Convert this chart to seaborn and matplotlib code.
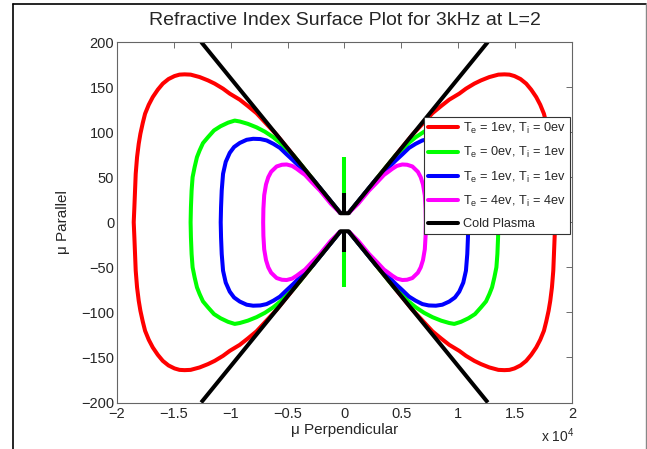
import numpy as np
import pandas as pd
import matplotlib
matplotlib.use("Agg")
import matplotlib.pyplot as plt
import seaborn as sns
from matplotlib.lines import Line2D

# ---------------- data (upper-left quadrant of each surface; mu_perp, mu_par) ----------------
labels = ["T$_e$ = 1ev, T$_i$ = 0ev", "T$_e$ = 0ev, T$_i$ = 1ev",
          "T$_e$ = 1ev, T$_i$ = 1ev", "T$_e$ = 4ev, T$_i$ = 4ev", "Cold Plasma"]
colors = ["#ff0000", "#00ff00", "#0000ff", "#ff00ff", "#000000"]

red_x = [-18530, -18473, -18414, -18355, -18237, -18090, -17943, -17738, -17532, -17208,
         -16855, -16414, -15973, -15472, -14943, -14502, -14060, -13530, -12736, -12001,
         -11412, -10677, -10088, -9206, -8500, -7732, -6850, -5966, -350]
red_y = [0, 16.7, 35.2, 53.7, 72.2, 87.1, 98.2, 110, 120.4, 130.4,
         138.9, 147.1, 153.8, 158.9, 162.2, 163.8, 164.1, 163.8, 161.1, 157.4,
         153.8, 148.2, 142.7, 136, 129, 121, 109, 97.1, 10]

green_x = [-13530, -13501, -13442, -13354, -13177, -12971, -12736, -12442, -12001, -11471,
           -10900, -10235, -9650, -9206, -8500, -7732, -7000, -6266, -5650, -5084, -4500, -350]
green_y = [0, 16.7, 35.2, 50, 61.1, 72.2, 79.7, 87.8, 94.4, 101.9,
           106.5, 110.5, 112.8, 111.8, 109.2, 105.3, 100.5, 94.4, 88, 80.8, 74.4, 10]

blue_x = [-10883, -10853, -10794, -10677, -10441, -10088, -9706, -9206, -8600, -8032,
          -7400, -6849, -6250, -5675, -5100, -4501, -3619, -2800, -350]
blue_y = [0, 16.7, 35.2, 53.7, 67, 77, 83.5, 88, 91.5, 92.6,
          92.3, 90.8, 87, 82.5, 75.5, 68.5, 57.5, 48, 10]

mag_x = [-7150, -7130, -7060, -6900, -6700, -6450, -5966, -5500, -5084, -4600,
         -4201, -3800, -3469, -2877, -2145, -1200, -350]
mag_y = [0, 15, 30, 42, 50, 56, 61.9, 63.8, 64.1, 62.5,
         59.3, 55.5, 52.5, 44.5, 35, 20.5, 10]

# cold plasma: upper "V" branch
cold_x = [-12600, -350, 350, 12600]
cold_y = [200, 10, 10, 200]

# vertical spikes on the mu_par axis
green_spike_y = [10, 72]
cold_spike_y = [10, 33]

xticks = [-2e4, -1.5e4, -1e4, -0.5e4, 0, 0.5e4, 1e4, 1.5e4, 2e4]
xticklabels = ["\u22122", "\u22121.5", "\u22121", "\u22120.5", "0", "0.5", "1", "1.5", "2"]
yticks = [-200, -150, -100, -50, 0, 50, 100, 150, 200]
yticklabels = ["\u2212200", "\u2212150", "\u2212100", "\u221250", "0", "50", "100", "150", "200"]

# ---------------- style ----------------
sns.set_style("white")
plt.rcParams["font.family"] = ["Liberation Sans", "DejaVu Sans"]
plt.rcParams["mathtext.fontset"] = "custom"
plt.rcParams["mathtext.rm"] = "Liberation Sans"
plt.rcParams["mathtext.default"] = "regular"

fig = plt.figure(figsize=(6.47, 4.49), dpi=100)
ax = fig.add_axes([117 / 647, 1 - 402.5 / 449, 455 / 647, 360.5 / 449])


def left_right(xs, ys):
    xs = np.asarray(xs, float)
    ys = np.asarray(ys, float)
    # left half: from near-origin top, around the outside, to near-origin bottom
    lx = np.concatenate([xs[::-1], xs[1:]])
    ly = np.concatenate([ys[::-1], -ys[1:]])
    return [(lx, ly), (-lx, ly)]


LW = 2.9


def draw(sx, sy, color):
    df = pd.DataFrame({"x": sx, "y": sy})
    sns.lineplot(data=df, x="x", y="y", sort=False, estimator=None, ax=ax,
                 color=color, linewidth=LW, solid_capstyle="butt",
                 solid_joinstyle="round", legend=False)


for (cx, cy), col in zip([(red_x, red_y), (green_x, green_y), (blue_x, blue_y),
                          (mag_x, mag_y)], colors[:4]):
    for sx, sy in left_right(cx, cy):
        draw(sx, sy, col)
    if col == colors[1]:
        draw([0, 0], green_spike_y, col)
        draw([0, 0], [-v for v in green_spike_y], col)

# cold plasma on top
draw(cold_x, cold_y, colors[4])
draw(cold_x, [-v for v in cold_y], colors[4])
draw([0, 0], cold_spike_y, colors[4])
draw([0, 0], [-v for v in cold_spike_y], colors[4])

ax.set_xlim(-2e4, 2e4)
ax.set_ylim(-200, 200)
ax.set_xticks(xticks)
ax.set_xticklabels(xticklabels, fontsize=10.5)
ax.set_yticks(yticks)
ax.set_yticklabels(yticklabels, fontsize=10.5)
ax.tick_params(direction="in", length=4, width=0.6, color="#555555", top=True, right=True)
ax.tick_params(axis="x", pad=3.5)
ax.tick_params(axis="y", pad=2)
for s in ax.spines.values():
    s.set_color("#666666")
    s.set_linewidth(0.8)

ax.set_xlabel("\u03bc Perpendicular", fontsize=11, labelpad=1)
ax.set_ylabel("\u03bc Parallel", fontsize=11, labelpad=8)
ax.set_title("Refractive Index Surface Plot for 3kHz at L=2", fontsize=14, pad=12)
fig.text(541 / 647, 1 - 436 / 449, "x 10$^4$", fontsize=10, ha="left", va="center")

handles = [Line2D([0], [0], color=c, lw=LW) for c in colors]
leg = ax.legend(handles, labels, loc="upper right",
                bbox_to_anchor=(570 / 647, 1 - 117 / 449), bbox_transform=fig.transFigure,
                fontsize=9.2, handlelength=2.4, handletextpad=0.4, labelspacing=0.72,
                borderpad=0.3, borderaxespad=0, fancybox=False, framealpha=1)
leg.get_frame().set_edgecolor("#333333")
leg.get_frame().set_linewidth(0.8)

# outer page frame
fig.add_artist(Line2D([13 / 647, 13 / 647], [0, 1 - 4 / 449], transform=fig.transFigure,
                      color="black", lw=1.2))
fig.add_artist(Line2D([13 / 647, 646 / 647], [1 - 4 / 449, 1 - 4 / 449],
                      transform=fig.transFigure, color="black", lw=1.2))
fig.add_artist(Line2D([646 / 647, 646 / 647], [0, 1 - 4 / 449], transform=fig.transFigure,
                      color="#888888", lw=1.0))

fig.savefig("out.png", dpi=100)
